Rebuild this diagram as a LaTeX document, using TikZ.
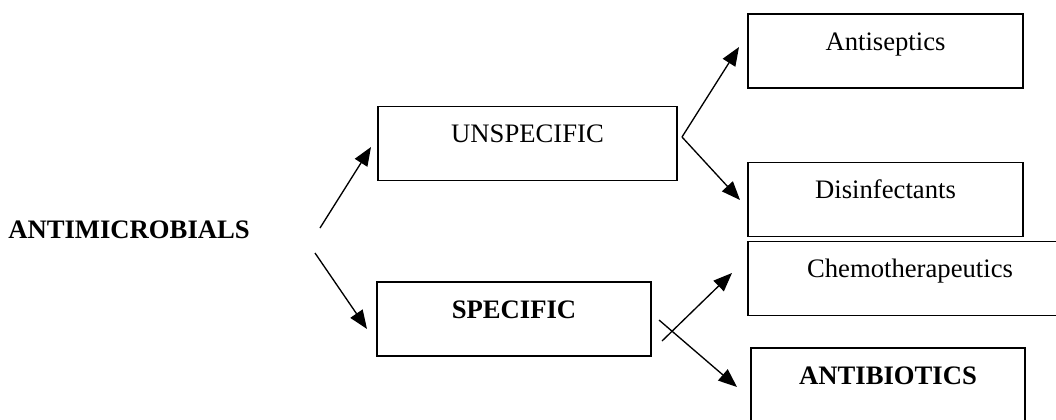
\documentclass[tikz,border=0pt]{standalone}
\usepackage{fontspec}
\setmainfont{Liberation Serif}
\usetikzlibrary{arrows.meta}

\tikzset{
  catbox/.style={draw, line width=0.9pt, inner sep=0pt, text height=27pt, text depth=28.5pt, align=center},
  branch/.style={line width=1pt, -{Triangle[length=14pt,width=11pt]}}
}

\begin{document}
\begin{tikzpicture}[x=0.75pt,y=0.75pt,yscale=-1,xscale=1]
\fontsize{20}{24}\selectfont
\useasboundingbox (0,0) rectangle (1056,419);
\clip (0,0) rectangle (1056,419);

% Text Node
\node[anchor=base west, inner sep=0pt, font=\bfseries] (amb) at (8,238) {ANTIMICROBIALS};

%Shape: Rectangle
\node[catbox, minimum width=224.25pt] (unspec) at (527.5,143.5) {UNSPECIFIC};
%Shape: Rectangle
\node[catbox, minimum width=205.5pt, font=\bfseries] (spec) at (514,319) {SPECIFIC};

%Shape: Rectangle
\node[catbox, minimum width=206.25pt] (antisep) at (885.5,51) {Antiseptics};
%Shape: Rectangle
\node[catbox, minimum width=206.25pt] (disinf) at (885.5,199.5) {Disinfectants};
%Shape: Rectangle
\node[catbox, minimum width=243pt] (chemo) at (910,278.5) {Chemotherapeutics};
%Shape: Rectangle
\node[catbox, minimum width=205.5pt, font=\bfseries] (antibio) at (888,385) {ANTIBIOTICS};

% end points of the arrows
\coordinate (amb-up) at (320,228);
\coordinate (amb-down) at (315,253);
\coordinate (unspec-in) at (371,147);
\coordinate (spec-in) at (367,329);
\coordinate (unspec-fork) at (684,137);
\coordinate (antisep-in) at (739,47);
\coordinate (disinf-in) at (740,200);
\coordinate (spec-out1) at (662,341);
\coordinate (spec-out2) at (659,320);
\coordinate (chemo-in) at (732,273);
\coordinate (antibio-in) at (737,387);

%Straight Lines
\draw[branch] (amb-up) -- (unspec-in);
\draw[branch] (amb-down) -- (spec-in);
\draw[branch] ([xshift=-1.5pt]unspec-fork) -- (antisep-in);
\draw[branch] ([xshift=-1.5pt]unspec-fork) -- (disinf-in);
\draw[branch] (spec-out1) -- (chemo-in);
\draw[branch] (spec-out2) -- (antibio-in);

\end{tikzpicture}
\end{document}
